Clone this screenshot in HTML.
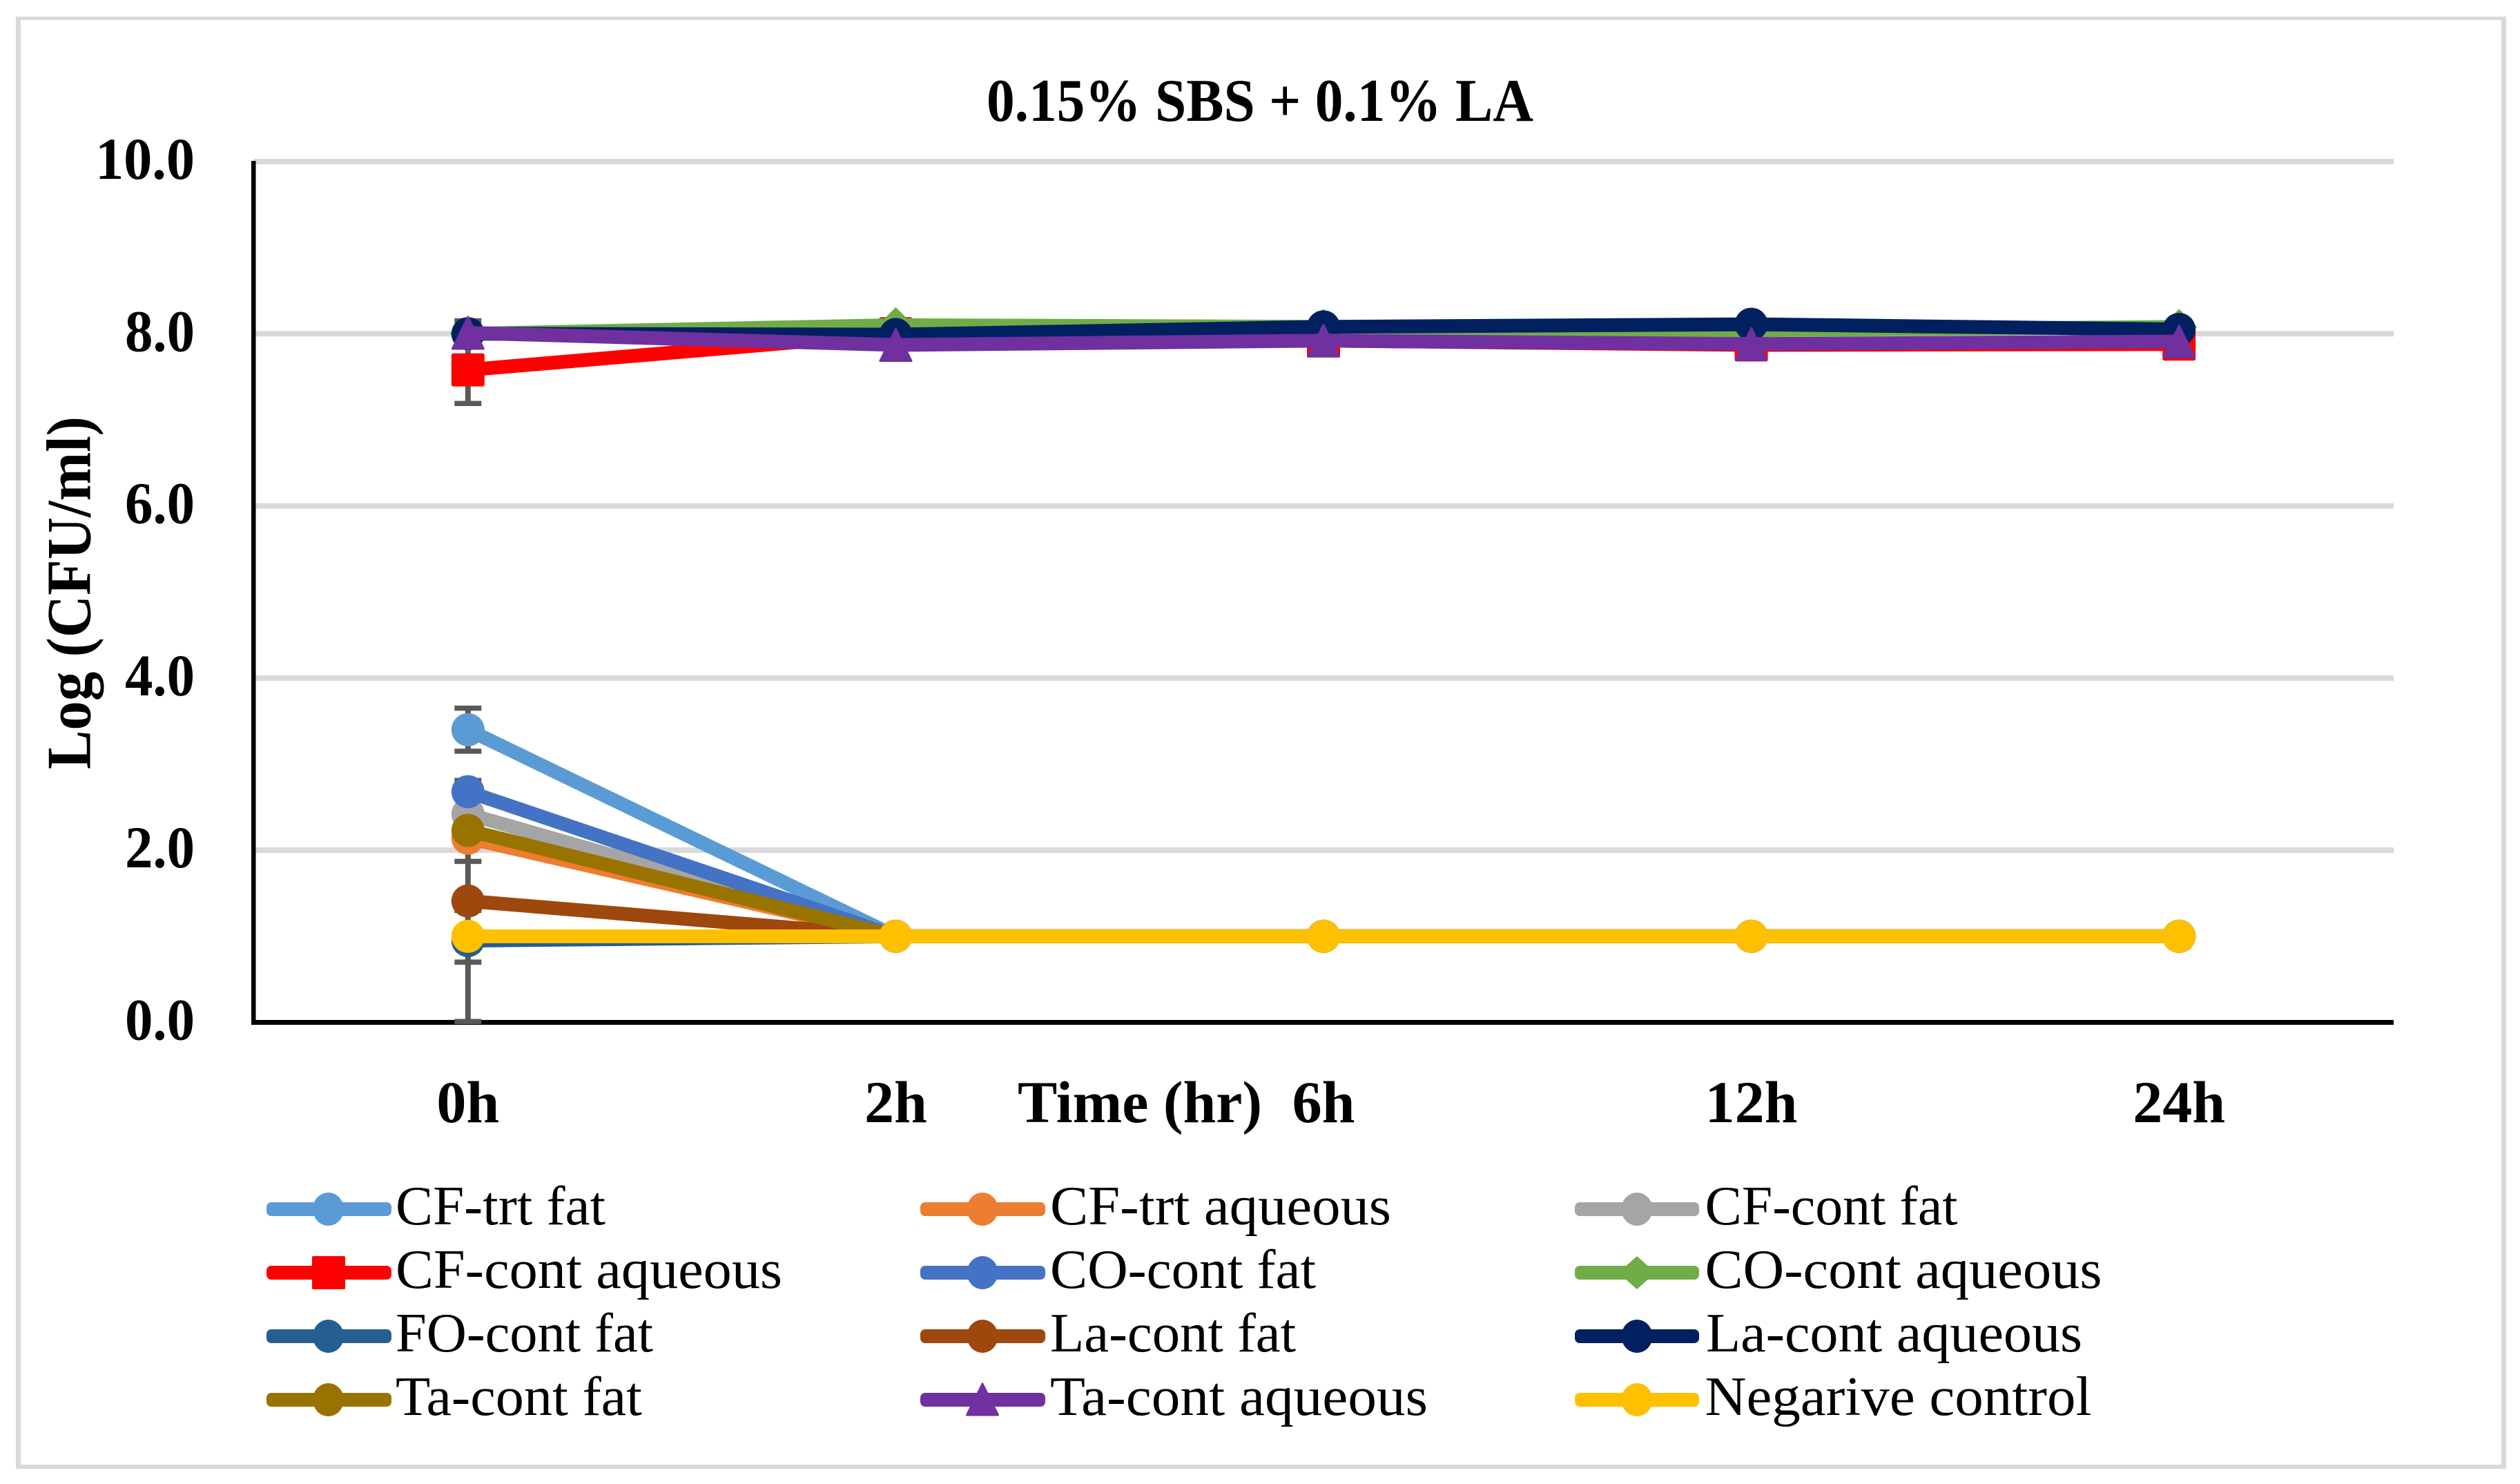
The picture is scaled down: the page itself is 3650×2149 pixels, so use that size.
<!DOCTYPE html>
<html lang="en">
<head>
<meta charset="utf-8">
<title>0.15% SBS + 0.1% LA</title>
<style>
html,body{margin:0;padding:0;background:#fff;width:3650px;height:2149px;overflow:hidden}
svg{display:block}
text{font-family:"Liberation Serif",serif;fill:#000}
.b{font-weight:700;font-size:86px}
.t{font-weight:700;font-size:88px}
.l{font-size:80px}
</style>
</head>
<body>
<svg id="chart" xmlns="http://www.w3.org/2000/svg" width="3650" height="2149" viewBox="0 0 3650 2149">
  <rect x="0" y="0" width="3650" height="2149" fill="#fff"/>
  <g fill="#D9D9D9">
    <rect x="23" y="24" width="3607" height="5"/>
    <rect x="23" y="2121" width="3607" height="6"/>
    <rect x="23" y="24" width="7" height="2103"/>
    <rect x="3623" y="24" width="7" height="2103"/>
  </g>
  <text class="t" x="1429" y="175" textLength="792" lengthAdjust="spacingAndGlyphs">0.15% SBS + 0.1% LA</text>
  <text class="t" style="font-size:91px" transform="translate(130.5 1114) rotate(-90)" x="0" y="0" textLength="511" lengthAdjust="spacingAndGlyphs">Log (CFU/ml)</text>
  <text class="b" x="1474" y="1625" textLength="354" lengthAdjust="spacingAndGlyphs">Time (hr)</text>
  <g id="grid"></g>
  <g id="yticks"></g>
  <g id="xticks"></g>
  <rect x="364" y="233" width="6.5" height="1251" fill="#000"/>
  <rect x="364" y="1477" width="3103" height="7" fill="#000"/>
  <g id="errors"></g>
  <g id="series"></g>

  <g>
    <g>
      <rect x="386" y="1741" width="181" height="20" rx="7" fill="#5B9BD5"/><ellipse cx="475.5" cy="1751" rx="22.5" ry="24" fill="#5B9BD5"/>
      <text class="l" x="573" y="1773" textLength="304" lengthAdjust="spacingAndGlyphs">CF-trt fat</text>
    </g>
    <g>
      <rect x="1333" y="1741" width="181" height="20" rx="7" fill="#ED7D31"/><ellipse cx="1423" cy="1751" rx="22.5" ry="24" fill="#ED7D31"/>
      <text class="l" x="1521" y="1773" textLength="494" lengthAdjust="spacingAndGlyphs">CF-trt aqueous</text>
    </g>
    <g>
      <rect x="2281" y="1741" width="180" height="20" rx="7" fill="#A5A5A5"/><ellipse cx="2371" cy="1751" rx="22.5" ry="24" fill="#A5A5A5"/>
      <text class="l" x="2469.5" y="1773" textLength="366" lengthAdjust="spacingAndGlyphs">CF-cont fat</text>
    </g>
    <g>
      <rect x="386" y="1833" width="181" height="20" rx="7" fill="#FF0000"/><rect x="452" y="1819" width="48" height="48" rx="2" fill="#FF0000"/>
      <text class="l" x="573" y="1865" textLength="560" lengthAdjust="spacingAndGlyphs">CF-cont aqueous</text>
    </g>
    <g>
      <rect x="1333" y="1833" width="181" height="20" rx="7" fill="#4472C4"/><ellipse cx="1423" cy="1843" rx="22.5" ry="24" fill="#4472C4"/>
      <text class="l" x="1521" y="1865" textLength="385" lengthAdjust="spacingAndGlyphs">CO-cont fat</text>
    </g>
    <g>
      <rect x="2281" y="1833" width="180" height="20" rx="7" fill="#70AD47"/><polygon points="2371,1819 2398,1843 2371,1867 2344,1843" fill="#70AD47"/>
      <text class="l" x="2469.5" y="1865" textLength="575" lengthAdjust="spacingAndGlyphs">CO-cont aqueous</text>
    </g>
    <g>
      <rect x="386" y="1925" width="181" height="20" rx="7" fill="#255E91"/><ellipse cx="475.5" cy="1935" rx="22.5" ry="24" fill="#255E91"/>
      <text class="l" x="573" y="1957" textLength="373" lengthAdjust="spacingAndGlyphs">FO-cont fat</text>
    </g>
    <g>
      <rect x="1333" y="1925" width="181" height="20" rx="7" fill="#9E480E"/><ellipse cx="1423" cy="1935" rx="22.5" ry="24" fill="#9E480E"/>
      <text class="l" x="1521" y="1957" textLength="356" lengthAdjust="spacingAndGlyphs">La-cont fat</text>
    </g>
    <g>
      <rect x="2281" y="1925" width="180" height="20" rx="7" fill="#002060"/><ellipse cx="2371" cy="1935" rx="22.5" ry="24" fill="#002060"/>
      <text class="l" x="2471" y="1957" textLength="545" lengthAdjust="spacingAndGlyphs">La-cont aqueous</text>
    </g>
    <g>
      <rect x="386" y="2017" width="181" height="20" rx="7" fill="#997300"/><ellipse cx="475.5" cy="2027" rx="22.5" ry="24" fill="#997300"/>
      <text class="l" x="573" y="2049" textLength="357" lengthAdjust="spacingAndGlyphs">Ta-cont fat</text>
    </g>
    <g>
      <rect x="1333" y="2017" width="181" height="20" rx="7" fill="#7030A0"/><polygon points="1423,2004 1445.5,2049 1400.5,2049" fill="#7030A0" stroke="#7030A0" stroke-width="3" stroke-linejoin="round"/>
      <text class="l" x="1521" y="2049" textLength="547" lengthAdjust="spacingAndGlyphs">Ta-cont aqueous</text>
    </g>
    <g>
      <rect x="2281" y="2017" width="180" height="20" rx="7" fill="#FFC000"/><ellipse cx="2371" cy="2027" rx="22.5" ry="24" fill="#FFC000"/>
      <text class="l" x="2469.5" y="2049" textLength="560" lengthAdjust="spacingAndGlyphs">Negarive control</text>
    </g>
  </g>
</svg>
<script>
// ----- chart data -----
var categories = ["0h", "2h", "6h", "12h", "24h"];
var yTickValues = [0, 2, 4, 6, 8, 10];
var yTickLabels = ["0.0", "2.0", "4.0", "6.0", "8.0", "10.0"];

var cfTrtFat    = [3.40, 1.00, 1.00, 1.00, 1.00];
var cfTrtAqueous = [2.14, 1.00, 1.00, 1.00, 1.00];
var cfContFat   = [2.42, 1.00, 1.00, 1.00, 1.00];
var cfContAqueous = [7.58, 8.00, 7.92, 7.87, 7.88];
var coContFat   = [2.68, 1.00, 1.00, 1.00, 1.00];
var coContAqueous = [8.00, 8.10, 8.08, 8.04, 8.08];
var foContFat   = [0.95, 1.00, 1.00, 1.00, 1.00];
var laContFat   = [1.41, 1.00, 1.00, 1.00, 1.00];
var laContAqueous = [8.00, 7.99, 8.08, 8.11, 8.05];
var taContFat   = [2.23, 1.00, 1.00, 1.00, 1.00];
var taContAqueous = [8.01, 7.87, 7.92, 7.88, 7.91];
var negativeControl = [1.00, 1.00, 1.00, 1.00, 1.00];

// error-bar half widths at 0h, one per series in draw order
var errorAt0h = [0.25, 0.27, 0, 0.39, 0, 0, 0, 1.40, 0.15, 0, 0, 0.30];

var seriesNames = ["cf-trt-fat", "cf-trt-aqueous", "cf-cont-fat", "cf-cont-aqueous", "co-cont-fat", "co-cont-aqueous", "fo-cont-fat", "la-cont-fat", "la-cont-aqueous", "ta-cont-fat", "ta-cont-aqueous", "negative-control"];
var seriesValues = [cfTrtFat, cfTrtAqueous, cfContFat, cfContAqueous, coContFat, coContAqueous, foContFat, laContFat, laContAqueous, taContFat, taContAqueous, negativeControl];
var seriesColors = ["#5B9BD5", "#ED7D31", "#A5A5A5", "#FF0000", "#4472C4", "#70AD47", "#255E91", "#9E480E", "#002060", "#997300", "#7030A0", "#FFC000"];
var seriesMarkers = ["circle", "circle", "circle", "square", "circle", "diamond", "circle", "circle", "circle", "circle", "triangle", "circle"];

// ----- axis functions -----
var plotLeft = 368, plotRight = 3466, zeroY = 1480.5, unitY = 124.65;
function xPos(i) { return plotLeft + (plotRight - plotLeft) * (i + 0.5) / categories.length; }
function yPos(v) { return zeroY - unitY * v; }

var NS = "http://www.w3.org/2000/svg";
function make(tag, attrs, parent) {
  var el = document.createElementNS(NS, tag);
  for (var k in attrs) { el.setAttribute(k, attrs[k]); }
  parent.appendChild(el);
  return el;
}

var grid = document.getElementById("grid");
var yticks = document.getElementById("yticks");
var xticks = document.getElementById("xticks");
var errors = document.getElementById("errors");
var seriesLayer = document.getElementById("series");

yTickValues.forEach(function (v, i) {
  if (v !== 0) {
    var g = make("rect", { x: 367, y: yPos(v) - 4, width: 3100, height: 8, fill: "#D9D9D9" }, grid);
    
    
  }
  var label = yTickLabels[i];
  var t = make("text", { "class": "b", x: 282, y: yPos(v) + 25, "text-anchor": "end", textLength: 43 * (label.length - 1) + 15, lengthAdjust: "spacingAndGlyphs" }, yticks);
  
  
  t.textContent = label;
});

categories.forEach(function (c, i) {
  var t = make("text", { "class": "b", x: xPos(i), y: 1625, "text-anchor": "middle" }, xticks);
  
  
  t.textContent = c;
});

// error bars (drawn beneath all series)
seriesValues.forEach(function (vals, s) {
  var e = errorAt0h[s];
  if (!e) { return; }
  var x = xPos(0);
  var top = yPos(vals[0] + e), bot = yPos(Math.max(vals[0] - e, 0));
  var stem = make("rect", { x: x - 4, y: top, width: 8, height: bot - top, fill: "#595959" }, errors);
  
  
  var capTop = make("rect", { x: x - 19.5, y: top - 3.75, width: 39, height: 7.5, fill: "#595959" }, errors);
  
  
  var capBot = make("rect", { x: x - 19.5, y: bot - 3.75, width: 39, height: 7.5, fill: "#595959" }, errors);
  
  
});

function drawMarker(kind, x, y, color, parent) {
  var m;
  if (kind === "square") {
    m = make("rect", { x: x - 24, y: y - 24, width: 48, height: 48, rx: 3, fill: color }, parent);
  } else if (kind === "diamond") {
    m = make("polygon", { points: [x, y - 26, x + 26, y, x, y + 26, x - 26, y].join(","), fill: color }, parent);
  } else if (kind === "triangle") {
    m = make("polygon", { points: [x, y - 23, x + 22.5, y + 23, x - 22.5, y + 23].join(","), fill: color, stroke: color, "stroke-width": 3, "stroke-linejoin": "round" }, parent);
  } else {
    m = make("circle", { cx: x, cy: y, r: 24, fill: color }, parent);
  }
  return m;
}

seriesValues.forEach(function (vals, s) {
  var color = seriesColors[s];
  var g = make("g", {}, seriesLayer);
  
  
  var pts = vals.map(function (v, i) { return xPos(i) + "," + yPos(v); }).join(" ");
  var line = make("polyline", { points: pts, fill: "none", stroke: color, "stroke-width": 20, "stroke-linejoin": "round", "stroke-linecap": "round" }, g);
  
  
  vals.forEach(function (v, i) {
    var m = drawMarker(seriesMarkers[s], xPos(i), yPos(v), color, g);
    
    
  });
});
</script>
</body>
</html>
